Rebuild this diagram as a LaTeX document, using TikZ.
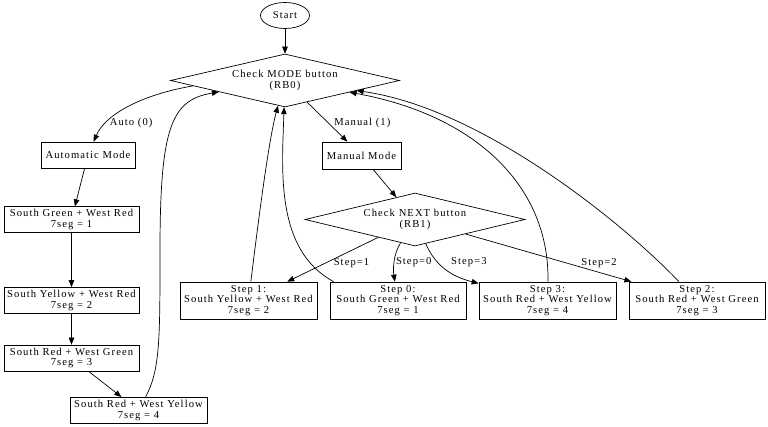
\documentclass[tikz,border=0pt]{standalone}
\usepackage{fontspec}
\setmainfont{Liberation Serif}[LetterSpace=10]
\usetikzlibrary{shapes.geometric, arrows.meta, calc}
\begin{document}
\begin{tikzpicture}[x=1pt, y=-1pt,
  every node/.style={font=\fontsize{10.6}{10.5}\selectfont, align=center},
  box/.style={draw, rectangle, inner sep=0pt, line width=0.7pt},
  decision/.style={draw, diamond, inner sep=0pt, shape aspect=4.3, line width=0.7pt},
  startnode/.style={draw, ellipse, inner sep=0pt, line width=0.7pt},
  arr/.style={-{Triangle[length=7pt,width=5.5pt]}, line width=0.7pt},
  lbl/.style={inner sep=0pt}]
\fill[white] (0,0) rectangle (768,427);
\useasboundingbox (0,0) rectangle (768,427);

\node[startnode, minimum width=49pt, minimum height=26pt] (start) at (285,15.5) {Start};
\node[decision, minimum width=229pt, minimum height=53pt] (mode) at (285,80.5) {Check MODE button\\(RB0)};
\node[box, minimum width=94pt, minimum height=26pt] (auto) at (88,155) {Automatic Mode};
\node[box, minimum width=135pt, minimum height=26pt] (sgwr) at (71.5,219.7) {South Green + West Red\\7seg = 1};
\node[box, minimum width=135pt, minimum height=26pt] (sywr) at (71.5,300.5) {South Yellow + West Red\\7seg = 2};
\node[box, minimum width=135pt, minimum height=26pt] (srwg) at (71.5,358) {South Red + West Green\\7seg = 3};
\node[box, minimum width=137pt, minimum height=26pt] (srwy) at (138.5,410.3) {South Red + West Yellow\\7seg = 4};
\node[box, minimum width=79pt, minimum height=27pt] (manual) at (361.5,155.5) {Manual Mode};
\node[decision, minimum width=220pt, minimum height=53pt] (next) at (415,219.5) {Check NEXT button\\(RB1)};
\node[box, minimum width=137pt, minimum height=37pt] (step1) at (248.5,300.5) {Step 1:\\South Yellow + West Red\\7seg = 2};
\node[box, minimum width=136pt, minimum height=37pt] (step0) at (398,300.5) {Step 0:\\South Green + West Red\\7seg = 1};
\node[box, minimum width=137pt, minimum height=37pt] (step3) at (547.5,300.5) {Step 3:\\South Red + West Yellow\\7seg = 4};
\node[box, minimum width=136pt, minimum height=37pt] (step2) at (697,300.5) {Step 2:\\South Red + West Green\\7seg = 3};

\draw[arr] (start) -- (mode);
\draw[arr] ($(mode.west)!0.2!(mode.south)$) .. controls (140,95) and (105,115) .. (auto)
  node[lbl, pos=0.75, anchor=west, xshift=3pt] {Auto (0)};
\draw[arr] (mode) -- (manual) node[lbl, pos=0.52, anchor=west, xshift=6pt] {Manual (1)};
\draw[arr] (auto) -- (sgwr);
\draw[arr] (sgwr) -- (sywr);
\draw[arr] (sywr) -- (srwg);
\draw[arr] (srwg) -- (srwy);
\draw[arr] (srwy) .. controls (160,370) and (160,340) .. (160,250) .. controls (160,125) and (172,100) .. (mode);
\draw[arr] (manual) -- (next);
\draw[arr] (next) -- (step1) node[lbl, pos=0.58, anchor=west, xshift=8pt] {Step=1};
\draw[arr] (next) .. controls (393,255) and (393,270) .. (step0) node[lbl, pos=0.5, anchor=west, xshift=1.5pt] {Step=0};
\draw[arr] (next) .. controls (433,260) and (445,275) .. (step3) node[lbl, pos=0.4, anchor=west, xshift=13pt] {Step=3};
\draw[arr] (next) -- (step2) node[lbl, pos=0.696, anchor=west, yshift=4pt] {Step=2};
\draw[arr] (step1) .. controls (256,240) and (268,142) .. (mode);
\draw[arr] ([xshift=4pt]step0.north west) .. controls (275,250) and (282,170) .. (mode);
\draw[arr] (step3) .. controls (550,190) and (480,116) .. (mode);
\draw[arr] (step2) .. controls (620,220) and (480,108) .. (mode);
\end{tikzpicture}
\end{document}
